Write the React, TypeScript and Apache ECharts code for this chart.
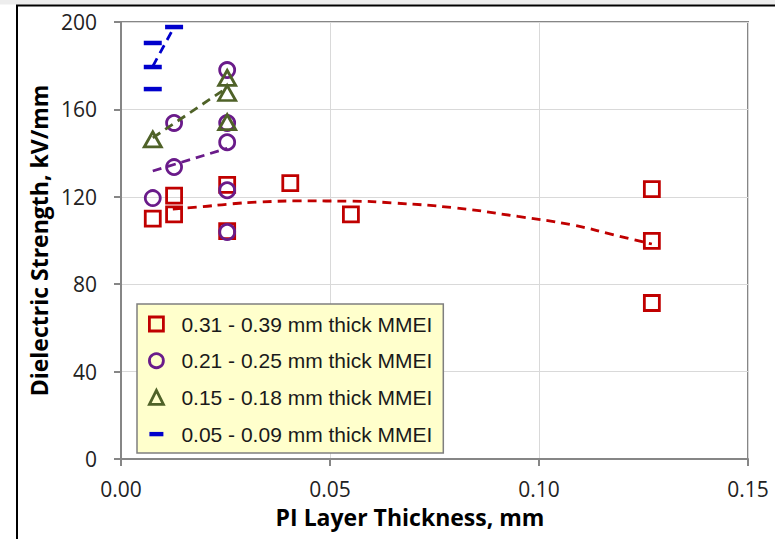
import React, { useEffect, useRef } from "react";
import * as echarts from "echarts";

// ---- data ----
const redX = [0.0076, 0.0127, 0.0127, 0.0254, 0.0254, 0.0405, 0.055, 0.127, 0.127, 0.127];
const redY = [110, 120.5, 112, 125.5, 104.3, 126.3, 112, 123.5, 99.8, 71.4];

const purpleX = [0.0076, 0.0127, 0.0127, 0.0254, 0.0254, 0.0254, 0.0254, 0.0254];
const purpleY = [119.4, 153.8, 133.6, 178, 153.8, 145, 123, 103.9];

const greenX = [0.0076, 0.0254, 0.0254, 0.0254];
const greenY = [146.3, 174.4, 167.5, 154.2];

const blueX = [0.0076, 0.0076, 0.0076, 0.0127];
const blueY = [190.4, 179.4, 169.3, 197.7];

// trend lines
const redTrendX = [0.0124, 0.019, 0.026, 0.033, 0.043, 0.055, 0.065, 0.08, 0.095, 0.108, 0.118, 0.127];
const redTrendY = [114.4, 115.4, 116.7, 117.6, 118.1, 118.0, 117.2, 114.9, 111.0, 107.1, 102.5, 98.4];
const purpleTrendX = [0.0076, 0.0254];
const purpleTrendY = [131.8, 142.2];
const greenTrendX = [0.0076, 0.0254];
const greenTrendY = [147, 170];
const blueTrendX = [0.0076, 0.0127];
const blueTrendY = [179.7, 197.7];

const seriesNames = [
  "0.31 - 0.39 mm thick MMEI",
  "0.21 - 0.25 mm thick MMEI",
  "0.15 - 0.18 mm thick MMEI",
  "0.05 - 0.09 mm thick MMEI",
];

const xTickLabelDigits = 2;

const RED = "#C00000";
const PURPLE = "#6A1B8A";
const GREEN = "#4F6228";
const BLUE = "#0000CC";

const pairs = (xs: number[], ys: number[]) => xs.map((x, i) => [x, ys[i]]);

export default function App() {
  const ref = useRef<HTMLDivElement>(null);
  useEffect(() => {
    if (!ref.current) return;
    const chart = echarts.init(ref.current, undefined, { renderer: "svg" });
    const trendStyle = (c: string) => ({ color: c, width: 2.8, type: [9, 6] as any, opacity: 1 });
    const hollow = (c: string) => ({ color: "rgba(0,0,0,0)", borderColor: c, borderWidth: 2.8, opacity: 1 });
    const option: any = {
      animation: false,
      backgroundColor: "#ffffff",
      graphic: [
        { type: "rect", shape: { x: 0, y: 0, width: 775, height: 4.5 }, style: { fill: "#ededed" }, silent: true },
        { type: "line", shape: { x1: 16, y1: 5.5, x2: 775, y2: 5.5 }, style: { stroke: "#000", lineWidth: 2 }, silent: true },
        { type: "line", shape: { x1: 17, y1: 5, x2: 17, y2: 539 }, style: { stroke: "#000", lineWidth: 2 }, silent: true },
      ],
      grid: {
        left: 121,
        top: 22,
        right: 27,
        bottom: 80,
        show: true,
        borderColor: "#868686",
        borderWidth: 2,
        backgroundColor: "transparent",
      },
      xAxis: {
        type: "value",
        min: 0,
        max: 0.15,
        interval: 0.05,
        name: "PI Layer Thickness, mm",
        nameLocation: "middle",
        nameGap: 46,
        nameTextStyle: {
          fontFamily: "Open Sans",
          fontWeight: "bold",
          fontSize: 23,
          color: "#000",
          padding: [0, 49, 0, 0],
        },
        axisLine: { show: true, lineStyle: { color: "#868686", width: 2 } },
        axisTick: { show: true, length: 7, lineStyle: { color: "#868686", width: 2 } },
        splitLine: { show: true, lineStyle: { color: "#d9d9d9", width: 1 } },
        axisLabel: {
          fontFamily: "Open Sans",
          fontSize: 21,
          color: "#222",
          margin: 19,
          formatter: (v: number) => v.toFixed(xTickLabelDigits),
        },
      },
      yAxis: {
        type: "value",
        min: 0,
        max: 200,
        interval: 40,
        name: "Dielectric Strength, kV/mm",
        nameLocation: "middle",
        nameGap: 64,
        nameTextStyle: {
          fontFamily: "Open Sans",
          fontWeight: "bold",
          fontSize: 23,
          color: "#000",
        },
        axisLine: { show: true, lineStyle: { color: "#868686", width: 2 } },
        axisTick: { show: true, length: 7, lineStyle: { color: "#868686", width: 2 } },
        splitLine: { show: true, lineStyle: { color: "#d9d9d9", width: 1 } },
        axisLabel: {
          fontFamily: "Open Sans",
          fontSize: 21,
          color: "#222",
          margin: 24,
        },
      },
      legend: {
        orient: "vertical",
        left: 137,
        top: 304,
        backgroundColor: "#FFFFCC",
        borderColor: "#7f7f7f",
        borderWidth: 1.5,
        padding: [9, 11, 8, 11],
        itemGap: 14.7,
        itemWidth: 14,
        itemHeight: 14,
        selectedMode: false,
        textStyle: {
          fontFamily: "Liberation Sans",
          fontSize: 21,
          color: "#1a1a1a",
          lineHeight: 22,
          padding: [0, 0, 0, 13],
        },
        data: [
          { name: seriesNames[0], icon: "rect", itemStyle: hollow(RED) },
          { name: seriesNames[1], icon: "circle", itemStyle: hollow(PURPLE) },
          { name: seriesNames[2], icon: "triangle", itemStyle: hollow(GREEN) },
          { name: seriesNames[3], icon: "path://M0,0L16,0L16,5L0,5Z", itemStyle: { color: BLUE, borderWidth: 0, opacity: 1 } },
        ],
      },
      series: [
        {
          name: seriesNames[0],
          type: "scatter",
          symbol: "rect",
          symbolSize: 15,
          itemStyle: hollow(RED),
          data: pairs(redX, redY),
          z: 2,
        },
        {
          name: seriesNames[1],
          type: "scatter",
          symbol: "circle",
          symbolSize: 15,
          itemStyle: hollow(PURPLE),
          data: pairs(purpleX, purpleY),
          z: 3,
        },
        {
          name: seriesNames[2],
          type: "scatter",
          symbol: "triangle",
          symbolSize: [17, 15],
          itemStyle: hollow(GREEN),
          data: pairs(greenX, greenY),
          z: 4,
        },
        {
          name: seriesNames[3],
          type: "scatter",
          symbol: "rect",
          symbolSize: [18, 4.5],
          itemStyle: { color: BLUE, opacity: 1 },
          data: pairs(blueX, blueY),
          z: 5,
        },
        {
          name: "redTrend",
          type: "line",
          smooth: true,
          showSymbol: false,
          symbol: "none",
          lineStyle: trendStyle(RED),
          data: pairs(redTrendX, redTrendY),
          z: 6,
        },
        {
          name: "purpleTrend",
          type: "line",
          showSymbol: false,
          symbol: "none",
          lineStyle: trendStyle(PURPLE),
          data: pairs(purpleTrendX, purpleTrendY),
          z: 6,
        },
        {
          name: "greenTrend",
          type: "line",
          showSymbol: false,
          symbol: "none",
          lineStyle: trendStyle(GREEN),
          data: pairs(greenTrendX, greenTrendY),
          z: 6,
        },
        {
          name: "blueTrend",
          type: "line",
          showSymbol: false,
          symbol: "none",
          lineStyle: trendStyle(BLUE),
          data: pairs(blueTrendX, blueTrendY),
          z: 6,
        },
      ],
    };
    chart.setOption(option);
    return () => chart.dispose();
  }, []);
  return (
    <div
      ref={ref}
      style={{ position: "absolute", left: 0, top: 0, width: 775, height: 539 }}
    />
  );
}
